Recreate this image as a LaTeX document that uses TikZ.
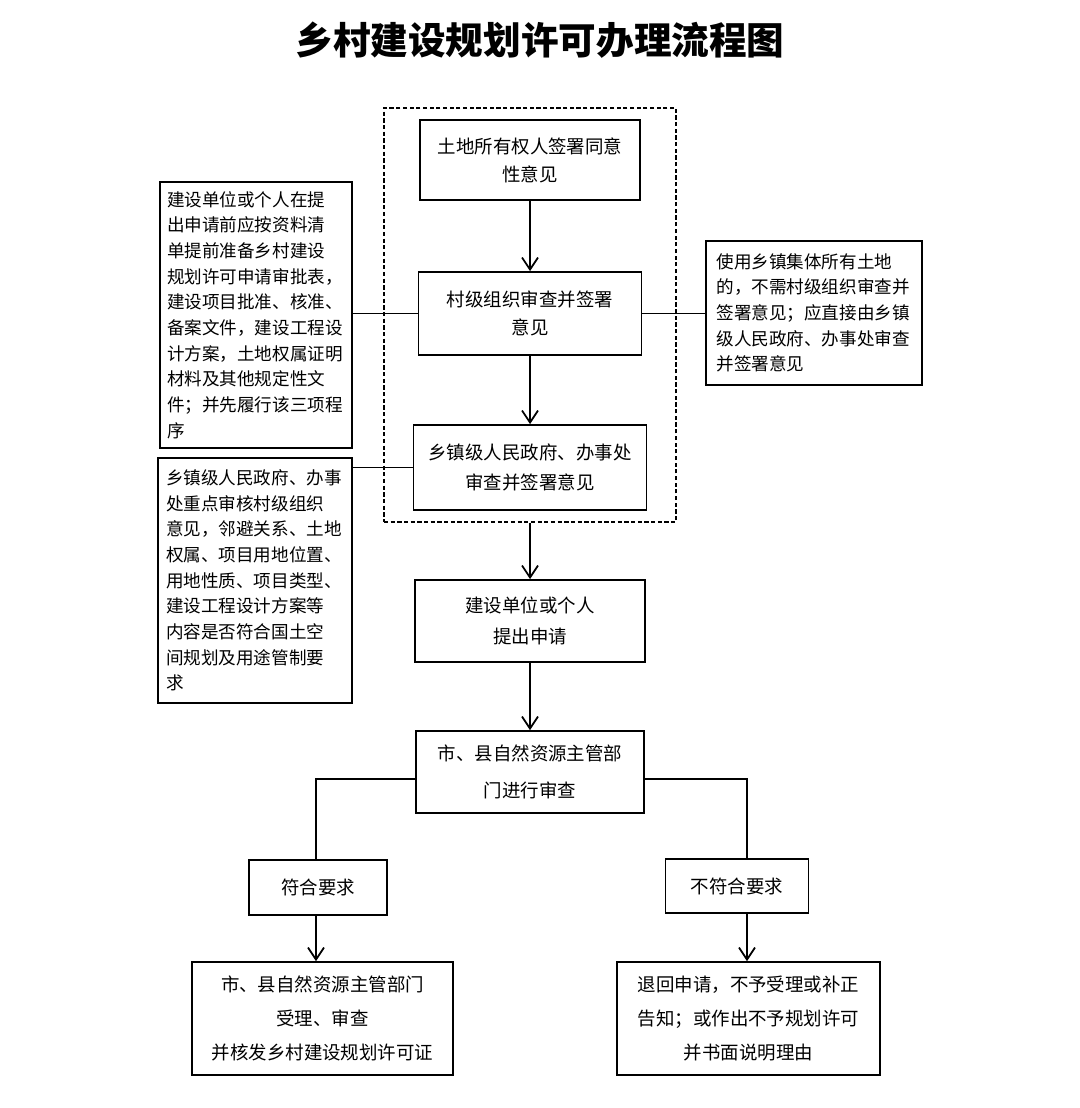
\documentclass[tikz,border=0pt]{standalone}
\usepackage{fontspec}
\setmainfont{Noto Sans CJK SC}
\usepackage{tikz}
\usetikzlibrary{arrows.meta}
\tikzset{
  flbox/.style={rectangle, draw=black, fill=white, line width=1pt, inner sep=2pt,
                align=center, font=\fontsize{10.5}{16}\selectfont},
  sidebox/.style={rectangle, draw=black, fill=white, line width=1pt, inner ysep=2pt,
                  align=left, font=\fontsize{10}{14.6}\selectfont},
  groupbox/.style={rectangle, draw=black, line width=0.8pt,
                   dash pattern=on 2.4pt off 1.4pt, inner sep=0pt},
  flline/.style={line width=1pt, black},
  flarrow/.style={flline, -{Straight Barb[length=2.4mm, width=3.2mm]}},
  titletext/.style={font=\fontsize{21.4}{24}\selectfont\bfseries},
}
\begin{document}
\begin{tikzpicture}
  \path[use as bounding box, fill=white] (0,0) rectangle (21.6,-22.16);
  \node[titletext] (title) at (10.8,-0.8) {乡村建设规划许可办理流程图};

  \node[groupbox, minimum width=5.84cm, minimum height=8.28cm] (grp) at (10.6,-6.3) {};
  \node[flbox, minimum width=4.4cm, minimum height=1.6cm] (b1) at (10.6,-3.2)
    {土地所有权人签署同意\\性意见};
  \node[flbox, minimum width=4.46cm, minimum height=1.66cm] (b2) at (10.6,-6.27)
    {村级组织审查并签署\\意见};
  \node[flbox, minimum width=4.66cm, minimum height=1.7cm,
        font=\fontsize{10.5}{17}\selectfont] (b3) at (10.6,-9.35)
    {乡镇级人民政府、办事处\\审查并签署意见};
  \node[flbox, minimum width=4.6cm, minimum height=1.64cm,
        font=\fontsize{10.5}{18}\selectfont] (b4) at (10.6,-12.42)
    {建设单位或个人\\提出申请};
  \node[flbox, minimum width=4.56cm, minimum height=1.64cm,
        font=\fontsize{10.5}{21}\selectfont] (b5) at (10.6,-15.44)
    {市、县自然资源主管部\\门进行审查};
  \node[flbox, minimum width=2.76cm, minimum height=1.1cm] (b6) at (6.36,-17.75) {符合要求};
  \node[flbox, minimum width=2.86cm, minimum height=1.08cm] (b7) at (14.74,-17.72) {不符合要求};
  \node[flbox, minimum width=5.22cm, minimum height=2.26cm,
        font=\fontsize{10.5}{19.4}\selectfont] (b8) at (6.45,-20.37)
    {市、县自然资源主管部门\\受理、审查\\并核发乡村建设规划许可证};
  \node[flbox, minimum width=5.26cm, minimum height=2.26cm,
        font=\fontsize{10.5}{19.4}\selectfont] (b9) at (14.97,-20.37)
    {退回申请，不予受理或补正\\告知；或作出不予规划许可\\并书面说明理由};

  \node[sidebox, text width=3.56cm, inner xsep=0.14cm, minimum height=5.32cm] (sa) at (5.12,-6.3)
    {建设单位或个人在提\\出申请前应按资料清\\单提前准备乡村建设\\规划许可申请审批表，\\建设项目批准、核准、\\备案文件，建设工程设\\计方案，土地权属证明\\材料及其他规定性文\\件；并先履行该三项程\\序};
  \node[sidebox, text width=3.56cm, inner xsep=0.16cm, minimum height=4.9cm] (sb) at (5.1,-11.61)
    {乡镇级人民政府、办事\\处重点审核村级组织\\意见，邻避关系、土地\\权属、项目用地位置、\\用地性质、项目类型、\\建设工程设计方案等\\内容是否符合国土空\\间规划及用途管制要\\求};
  \node[sidebox, text width=3.9cm, inner xsep=0.21cm, minimum height=2.88cm] (sc) at (16.28,-6.26)
    {使用乡镇集体所有土地\\的，不需村级组织审查并\\签署意见；应直接由乡镇\\级人民政府、办事处审查\\并签署意见};

  \foreach \a/\b in {b1/b2, b2/b3, b4/b5} {\draw[flarrow] (\a.south) -- (\b.north);}
  \draw[flarrow] (grp.south) -- (b4.north);
  \draw[flline] (b2.west) -- (b2.west -| sa.east);
  \draw[flline] (b2.east) -- (b2.east -| sc.west);
  \draw[flline] (b3.west) -- (b3.west -| sb.east);

  \coordinate (lx) at (6.32,-15.58);
  \coordinate (rx) at (14.94,-15.58);
  \draw[flline] (b5.west |- lx) -- (lx) -- (lx |- b6.north);
  \draw[flline] (b5.east |- rx) -- (rx) -- (rx |- b7.north);
  \draw[flarrow] (lx |- b6.south) -- (lx |- b8.north);
  \draw[flarrow] (rx |- b7.south) -- (rx |- b9.north);
\end{tikzpicture}
\end{document}
